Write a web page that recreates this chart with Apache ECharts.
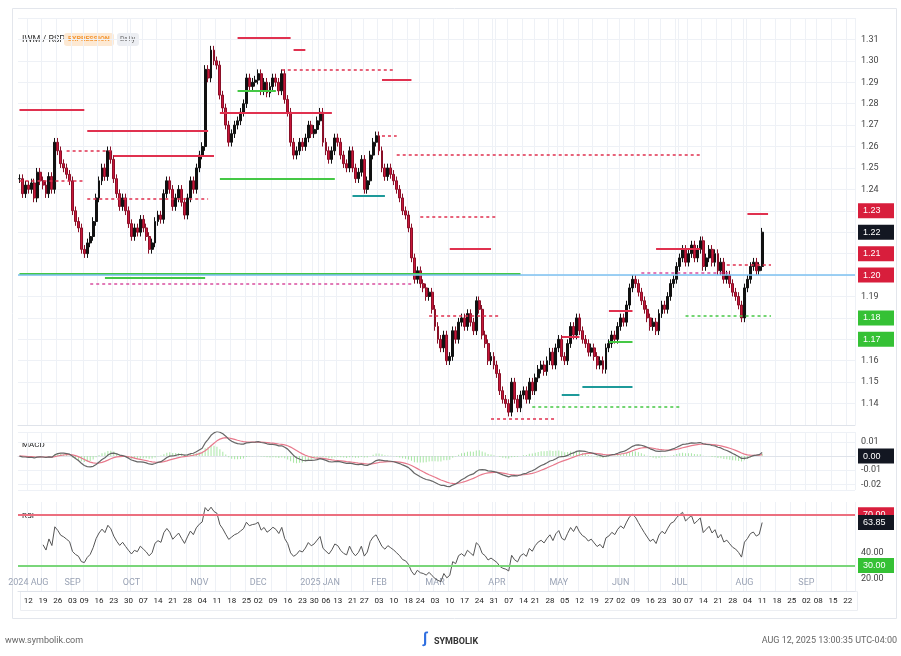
<!DOCTYPE html>
<html>
<head>
<meta charset="utf-8">
<script src="https://cdn.jsdelivr.net/npm/echarts@6/dist/echarts.min.js"></script>
<style>
  html, body { margin: 0; padding: 0; background: #fff; }
  #chart { width: 901px; height: 656px; }
</style>
</head>
<body>
<div id="chart"></div>
<script>
// Cierres diarios IWM/RSP (semana por semana)
const closes = [
  1.245, 1.238, 1.242,
  1.240, 1.243, 1.236, 1.248, 1.244,
  1.242, 1.238, 1.246, 1.240, 1.262,
  1.258, 1.252, 1.250, 1.247, 1.244,
  1.230, 1.225, 1.222, 1.212,
  1.210, 1.215, 1.218, 1.225, 1.236,
  1.244, 1.250, 1.246, 1.258, 1.254,
  1.245, 1.238, 1.232, 1.236, 1.230,
  1.224, 1.218, 1.222, 1.220, 1.226,
  1.222, 1.218, 1.212, 1.215, 1.225,
  1.228, 1.226, 1.238, 1.244, 1.240,
  1.232, 1.236, 1.240, 1.234, 1.228,
  1.236, 1.244, 1.240, 1.250, 1.256,
  1.260, 1.296, 1.292, 1.305, 1.300,
  1.298, 1.284, 1.278, 1.270, 1.262,
  1.266, 1.270, 1.272, 1.276, 1.280,
  1.292, 1.288, 1.290, 1.291,
  1.294, 1.286, 1.290, 1.285, 1.288,
  1.292, 1.290, 1.286, 1.294, 1.282,
  1.276, 1.262, 1.256, 1.258, 1.262,
  1.260, 1.264, 1.270, 1.266,
  1.268, 1.272, 1.276,
  1.262, 1.258, 1.254, 1.258,
  1.264, 1.262, 1.256, 1.252, 1.250,
  1.258, 1.250, 1.245, 1.248,
  1.254, 1.240, 1.244, 1.256, 1.262,
  1.265, 1.258, 1.250, 1.246, 1.250,
  1.247, 1.244, 1.240, 1.236, 1.230,
  1.228, 1.222, 1.208, 1.198,
  1.202, 1.196, 1.194, 1.190, 1.192,
  1.184, 1.176, 1.170, 1.166, 1.172,
  1.160, 1.162, 1.174, 1.170, 1.178,
  1.180, 1.176, 1.182, 1.178, 1.174,
  1.188, 1.184, 1.172, 1.168, 1.160,
  1.162, 1.158, 1.154, 1.146, 1.142,
  1.140, 1.136, 1.150, 1.142, 1.138,
  1.144, 1.146, 1.142, 1.150,
  1.146, 1.152, 1.156, 1.158, 1.155,
  1.160, 1.164, 1.158, 1.166, 1.170,
  1.162, 1.160, 1.168, 1.176, 1.172,
  1.180, 1.174, 1.170, 1.168, 1.164,
  1.166, 1.162, 1.158, 1.160, 1.156,
  1.166, 1.168, 1.172, 1.170,
  1.176, 1.180, 1.178, 1.186, 1.194,
  1.198, 1.196, 1.192, 1.188, 1.184,
  1.180, 1.176, 1.178, 1.174,
  1.182, 1.186, 1.184, 1.190, 1.196,
  1.198, 1.204, 1.208, 1.212,
  1.206, 1.210, 1.214, 1.208, 1.212,
  1.216, 1.204, 1.208, 1.212, 1.206,
  1.210, 1.202, 1.206, 1.198, 1.200,
  1.196, 1.192, 1.190, 1.186, 1.180,
  1.194, 1.198, 1.204, 1.206, 1.202,
  1.204, 1.220
];

const holidays = ['2024-09-02', '2024-11-28', '2024-12-25', '2025-01-01', '2025-01-09', '2025-01-20',
  '2025-02-17', '2025-04-18', '2025-05-26', '2025-06-19', '2025-07-04', '2025-09-01'];

// Segmentos horizontales: [desde índice, hasta índice, valor, tipo]
const levelLines = [
  [0, 22, 1.277, 'redSolid'],
  [23, 64, 1.2675, 'redSolid'],
  [32, 66, 1.2558, 'redSolid'],
  [16, 31, 1.258, 'redDash'],
  [0, 22, 1.244, 'redDash'],
  [23, 64, 1.2357, 'redDash'],
  [74, 92, 1.311, 'redSolid'],
  [93, 97, 1.305, 'redSolid'],
  [89, 127, 1.296, 'redDash'],
  [123, 133, 1.291, 'redSolid'],
  [68, 106, 1.276, 'redSolid'],
  [74, 87, 1.286, 'greenSolid'],
  [68, 107, 1.245, 'greenSolid'],
  [123, 128, 1.265, 'redDash'],
  [128, 231, 1.256, 'redDash'],
  [113, 124, 1.237, 'teal'],
  [136, 162, 1.227, 'redDash'],
  [146, 160, 1.2125, 'redSolid'],
  [0, 170, 1.2005, 'greenSolid'],
  [29, 63, 1.1987, 'greenSolid'],
  [24, 133, 1.196, 'pinkDash'],
  [139, 163, 1.181, 'redDash'],
  [174, 224, 1.1384, 'greenDash'],
  [160, 182, 1.133, 'redDash'],
  [191, 208, 1.148, 'teal'],
  [184, 190, 1.144, 'teal'],
  [200, 208, 1.1834, 'redSolid'],
  [184, 190, 1.171, 'redSolid'],
  [200, 208, 1.169, 'greenSolid'],
  [216, 231, 1.2123, 'redSolid'],
  [211, 241, 1.2013, 'pinkDash'],
  [240, 255, 1.205, 'redDash'],
  [226, 255, 1.181, 'greenDash'],
  [247, 254, 1.2287, 'redSolid']
];

const priceTags = [
  [1.23, '#d81e3c'], [1.22, '#131722'], [1.21, '#d81e3c'], [1.20, '#d81e3c'], [1.18, '#35c135'], [1.17, '#35c135']
];

const blueLevel = 1.202;
const rsiUpper = 70;
const rsiLower = 30;
const monthNames = ['JAN', 'FEB', 'MAR', 'APR', 'MAY', 'JUN', 'JUL', 'AUG', 'SEP', 'OCT', 'NOV', 'DEC'];

// Días hábiles
function fmt(d) {
  return d.getFullYear() + '-' + String(d.getMonth() + 1).padStart(2, '0') + '-' + String(d.getDate()).padStart(2, '0');
}
const dates = [];
for (let d = new Date(2024, 7, 7); d <= new Date(2025, 8, 24); d.setDate(d.getDate() + 1)) {
  const s = fmt(d);
  if (d.getDay() === 0 || d.getDay() === 6 || holidays.includes(s)) continue;
  dates.push(s);
}

const candles = closes.map((c, i) => {
  const o = i ? closes[i - 1] : c;
  return [o, c, Math.min(o, c) - 0.002, Math.max(o, c) + 0.002];
});

// MACD 12/26/9 y RSI 14 a partir de los cierres
function ema(arr, n) {
  const k = 2 / (n + 1); const out = [];
  arr.forEach((v, i) => out.push(i ? v * k + out[i - 1] * (1 - k) : v));
  return out;
}
const e12 = ema(closes, 12), e26 = ema(closes, 26);
const macd = closes.map((_, i) => e12[i] - e26[i]);
const signal = ema(macd, 9);
const hist = macd.map((v, i) => v - signal[i]);
const rsi = [];
let ag = 0, al = 0;
closes.forEach((c, i) => {
  if (!i) { rsi.push(null); return; }
  const ch = c - closes[i - 1];
  const g = Math.max(ch, 0), l = Math.max(-ch, 0);
  if (i <= 14) { ag += g / 14; al += l / 14; }
  else { ag = (ag * 13 + g) / 14; al = (al * 13 + l) / 14; }
  rsi.push(i < 8 ? null : (al === 0 ? 100 : 100 - 100 / (1 + ag / al)));
});

const styles = {
  redSolid: { color: '#e0314f', type: 'solid', width: 2 },
  redDash: { color: '#e0314f', type: [3, 3], width: 1.5 },
  pinkDash: { color: '#d94fa0', type: [3, 3], width: 1.5 },
  greenSolid: { color: '#45c845', type: 'solid', width: 2 },
  greenDash: { color: '#45c845', type: [3, 3], width: 1.5 },
  teal: { color: '#1e9a9a', type: 'solid', width: 2 }
};

const segData = levelLines.map(s => [
  { coord: [dates[s[0]], s[2]], lineStyle: styles[s[3]] },
  { coord: [dates[s[1]], s[2]] }
]);

function tag(v, color, digits) {
  return {
    yAxis: v,
    lineStyle: { color: 'rgba(0,0,0,0)', width: 0 },
    label: {
      show: true, position: 'end', distance: 3, formatter: v.toFixed(digits),
      backgroundColor: color, color: '#fff', fontSize: 9, padding: [3, 5], width: 26
    }
  };
}

const isWeekStart = i => i > 0 && new Date(dates[i]).getUTCDay() < new Date(dates[i - 1]).getUTCDay();
const isMonthStart = i => i === 0 ? false : dates[i].slice(5, 7) !== dates[i - 1].slice(5, 7);

const gridCommon = { left: 18, right: 46 };
const axisFont = { color: '#444', fontSize: 9, fontFamily: 'Roboto' };
const splitX = { show: true, interval: (i) => isMonthStart(i) || isWeekStart(i), lineStyle: { color: '#eef1f6' } };
const txt = (text, size, fill, extra) => ({ text, fontSize: size, fontFamily: 'Roboto', fill, ...extra });

const chart = echarts.init(document.getElementById('chart'));
chart.setOption({
  animation: false,
  backgroundColor: '#fff',
  grid: [
    { ...gridCommon, top: 18, height: 407 },
    { ...gridCommon, top: 432, height: 58 },
    { ...gridCommon, top: 502, height: 89 }
  ],
  xAxis: [
    { type: 'category', data: dates, gridIndex: 0, axisLabel: { show: false }, axisTick: { show: false }, axisLine: { lineStyle: { color: '#dfe3ea' } }, splitLine: splitX },
    { type: 'category', data: dates, gridIndex: 1, axisLabel: { show: false }, axisTick: { show: false }, axisLine: { lineStyle: { color: '#dfe3ea' } }, splitLine: splitX },
    {
      type: 'category', data: dates, gridIndex: 2, axisTick: { show: false },
      axisLine: { lineStyle: { color: '#dfe3ea' } }, splitLine: splitX,
      axisLabel: { ...axisFont, fontSize: 8, color: '#222', margin: 6, interval: (i) => isWeekStart(i), formatter: v => v.slice(8) }
    },
    {
      type: 'category', data: dates, gridIndex: 2, position: 'bottom', axisTick: { show: false }, axisLine: { show: false },
      axisLabel: {
        ...axisFont, color: '#9aa3b5', inside: true, margin: 4, interval: (i) => i === 3 || isMonthStart(i),
        formatter: (v) => {
          const m = monthNames[+v.slice(5, 7) - 1];
          return (v.slice(5, 7) === '01' || v === dates[3]) ? v.slice(0, 4) + ' ' + m : m;
        }
      }
    }
  ],
  yAxis: [
    {
      gridIndex: 0, position: 'right', min: 1.13, max: 1.32, interval: 0.01, scale: true,
      axisLine: { show: false }, axisTick: { show: false },
      axisLabel: { ...axisFont, margin: 6, formatter: v => (v < 1.135 || v > 1.315) ? '' : v.toFixed(2) },
      splitLine: { lineStyle: { color: '#eef1f6' } }
    },
    {
      gridIndex: 1, position: 'right', min: -0.024, max: 0.017,
      axisLine: { show: false }, axisTick: { show: false },
      axisLabel: { ...axisFont, margin: 6, showMinLabel: false, showMaxLabel: false, formatter: v => v.toFixed(2) },
      splitLine: { lineStyle: { color: '#eef1f6' } }
    },
    {
      gridIndex: 2, position: 'right', min: 10, max: 80, interval: 10,
      axisLine: { show: false }, axisTick: { show: false },
      axisLabel: { ...axisFont, margin: 6, formatter: v => (v === 20 || v === 40) ? v.toFixed(2) : '' },
      splitLine: { show: false }
    }
  ],
  series: [
    {
      type: 'candlestick', xAxisIndex: 0, yAxisIndex: 0, data: candles, barWidth: 2.4,
      itemStyle: { color: '#111', color0: '#c8173a', borderColor: '#111', borderColor0: '#8a0f27', borderWidth: 1 },
      markLine: {
        silent: true, symbol: 'none', animation: false, label: { show: false },
        data: [
          ...segData,
          { yAxis: blueLevel, lineStyle: { color: '#7cc0f0', type: 'solid', width: 1.5 } },
          ...priceTags.map(t => tag(t[0], t[1], 2))
        ]
      }
    },
    {
      type: 'bar', xAxisIndex: 1, yAxisIndex: 1, data: hist, barWidth: 1,
      itemStyle: { color: '#a9e6a5' }
    },
    {
      type: 'line', xAxisIndex: 1, yAxisIndex: 1, data: signal, showSymbol: false,
      lineStyle: { color: '#e8798c', width: 1.2 }
    },
    {
      type: 'line', xAxisIndex: 1, yAxisIndex: 1, data: macd, showSymbol: false,
      lineStyle: { color: '#666', width: 1.2 },
      markLine: { silent: true, symbol: 'none', data: [tag(0, '#131722', 2)] }
    },
    {
      type: 'line', xAxisIndex: 2, yAxisIndex: 2, data: rsi, showSymbol: false,
      lineStyle: { color: '#555', width: 1 },
      markLine: {
        silent: true, symbol: 'none',
        data: [
          { yAxis: rsiUpper, lineStyle: { color: '#ec6f7f', type: 'solid', width: 2 }, label: { show: true, position: 'end', distance: 3, formatter: rsiUpper.toFixed(2), backgroundColor: '#d81e3c', color: '#fff', fontSize: 9, padding: [3, 5], width: 26 } },
          { yAxis: rsiLower, lineStyle: { color: '#7ad67a', type: 'solid', width: 2 }, label: { show: true, position: 'end', distance: 3, formatter: rsiLower.toFixed(2), backgroundColor: '#35c135', color: '#fff', fontSize: 9, padding: [3, 5], width: 26 } },
          tag(rsi[rsi.length - 1], '#131722', 2)
        ]
      }
    }
  ],
  graphic: [
    { type: 'rect', left: 10, top: 6, shape: { width: 884, height: 610 }, style: { fill: 'none', stroke: '#e3e6ec' } },
    { type: 'text', left: 22, top: 35, style: txt('IWM / RSP', 9, '#333') },
    { type: 'rect', left: 64, top: 33, shape: { width: 50, height: 13, r: 3 }, style: { fill: '#fde9d3' } },
    { type: 'text', left: 68, top: 36, style: txt('EXPRESSION', 7, '#f39a3c', { fontWeight: 'bold' }) },
    { type: 'rect', left: 117, top: 33, shape: { width: 22, height: 13, r: 3 }, style: { fill: '#eceef2' } },
    { type: 'text', left: 120, top: 36, style: txt('Daily', 7, '#666') },
    { type: 'text', left: 22, top: 441, style: txt('MACD', 8, '#222') },
    { type: 'text', left: 22, top: 512, style: txt('RSI', 8, '#222') },
    { type: 'rect', left: 18, top: 589, shape: { width: 837, height: 19 }, style: { fill: 'none', stroke: '#eceef2' } },
    { type: 'text', left: 5, top: 636, style: txt('www.symbolik.com', 9, '#666') },
    { type: 'text', left: 423, top: 632, style: txt('∫', 15, '#2f6fe0', { fontWeight: 'bold' }) },
    { type: 'text', left: 434, top: 637, style: txt('SYMBOLIK', 9, '#333', { fontWeight: 'bold' }) },
    { type: 'text', right: 4, top: 636, style: txt('AUG 12, 2025 13:00:35 UTC-04:00', 9, '#666') }
  ]
});
</script>
</body>
</html>
